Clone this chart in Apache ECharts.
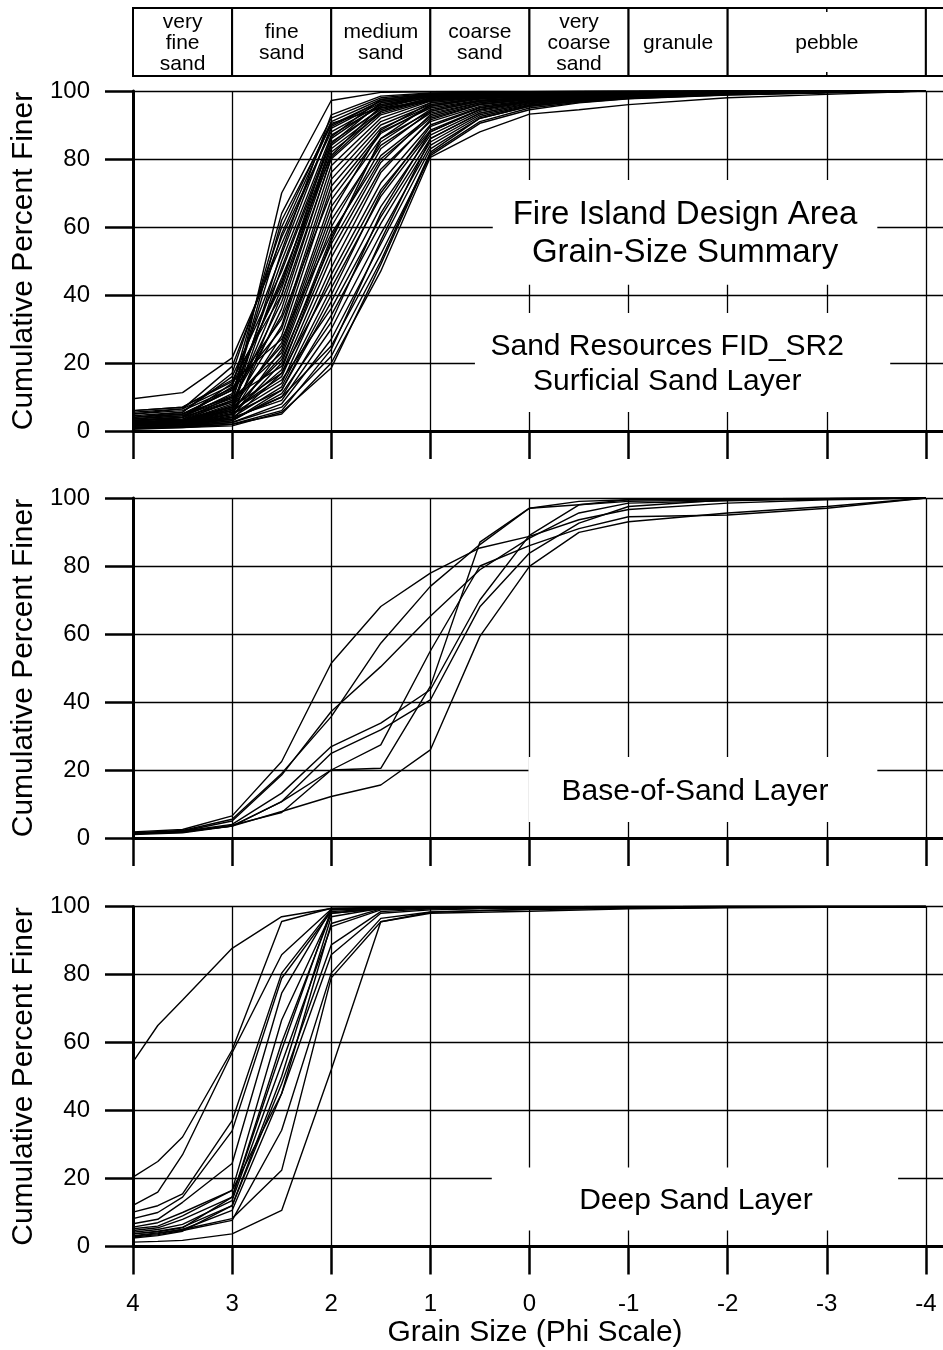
<!DOCTYPE html>
<html>
<head>
<meta charset="utf-8">
<script src="https://cdn.jsdelivr.net/npm/echarts/dist/echarts.min.js"></script>
<style>
  html, body { margin: 0; padding: 0; background: #fff; }
  #chart { width: 943px; height: 1350px; }
</style>
</head>
<body>
<div id="chart"></div>
<script>
// Phi sieve sizes at which each sample was measured
const PHI = [4, 3.5, 3, 2.5, 2, 1.5, 1, 0.5, 0, -0.5, -1, -2, -3, -4];
const PHI_DEEP = [4, 3.75, 3.5, 3, 2.5, 2, 1.5, 1, 0.5, 0, -1, -2, -3, -4];

// Cumulative percent finer, one row per sample
const SURFICIAL = [
  [2.0, 3.0, 8.0, 70.0, 97.2, 99.6, 99.8, 99.9, 99.9, 100, 100, 100, 100, 100],
  [3.0, 4.0, 13.0, 64.0, 92.0, 98.0, 99.3, 99.6, 99.7, 99.8, 99.9, 99.9, 100, 100],
  [4.5, 5.5, 17.0, 60.0, 91.0, 97.5, 99.0, 99.4, 99.6, 99.7, 99.8, 99.9, 100, 100],
  [2.5, 3.5, 10.0, 62.0, 90.0, 97.0, 98.8, 99.3, 99.5, 99.7, 99.8, 99.9, 100, 100],
  [9.5, 11.3, 21.5, 55.0, 89.0, 96.5, 98.6, 99.2, 99.5, 99.6, 99.7, 99.9, 100, 100],
  [5.5, 6.5, 19.0, 57.0, 88.0, 96.0, 98.5, 99.1, 99.4, 99.6, 99.7, 99.9, 100, 100],
  [3.0, 4.0, 14.0, 52.0, 89.5, 97.0, 98.9, 99.4, 99.6, 99.7, 99.8, 99.9, 100, 100],
  [2.0, 3.0, 9.0, 50.0, 87.0, 95.5, 98.2, 99.0, 99.3, 99.5, 99.7, 99.9, 100, 100],
  [1.5, 2.5, 6.0, 48.0, 86.0, 96.0, 98.6, 99.2, 99.5, 99.6, 99.8, 99.9, 100, 100],
  [4.0, 5.5, 16.0, 47.0, 85.0, 94.5, 97.8, 98.8, 99.2, 99.4, 99.6, 99.8, 99.9, 100],
  [3.5, 5.0, 12.0, 44.0, 84.0, 95.0, 98.3, 99.0, 99.3, 99.5, 99.7, 99.9, 100, 100],
  [2.0, 3.0, 7.5, 42.0, 83.0, 94.0, 97.5, 98.6, 99.1, 99.4, 99.6, 99.8, 99.9, 100],
  [6.0, 7.0, 15.0, 40.0, 82.0, 93.5, 97.5, 98.7, 99.2, 99.4, 99.6, 99.8, 99.9, 100],
  [3.0, 4.0, 11.0, 45.0, 81.0, 95.5, 98.7, 99.2, 99.5, 99.6, 99.8, 99.9, 100, 100],
  [2.5, 3.5, 8.5, 38.0, 80.0, 93.0, 97.2, 98.5, 99.0, 99.3, 99.5, 99.8, 99.9, 100],
  [1.5, 2.0, 5.0, 36.0, 80.5, 94.0, 98.0, 98.9, 99.3, 99.5, 99.7, 99.9, 100, 100],
  [5.0, 6.5, 13.5, 43.0, 86.5, 97.5, 99.2, 99.5, 99.7, 99.8, 99.9, 99.9, 100, 100],
  [2.0, 2.5, 6.5, 53.0, 93.0, 98.5, 99.4, 99.6, 99.7, 99.8, 99.9, 100, 100, 100],
  [1.0, 1.5, 4.0, 40.0, 84.5, 96.5, 98.8, 99.3, 99.5, 99.7, 99.8, 99.9, 100, 100],
  [3.5, 4.5, 10.5, 58.0, 90.5, 95.0, 97.0, 98.2, 98.8, 99.2, 99.5, 99.8, 99.9, 100],
  [3.0, 4.0, 9.0, 34.0, 78.0, 92.0, 97.0, 98.5, 99.0, 99.3, 99.5, 99.8, 99.9, 100],
  [2.0, 3.0, 7.0, 31.0, 76.0, 91.0, 96.5, 98.2, 98.8, 99.2, 99.5, 99.8, 99.9, 100],
  [4.0, 5.0, 12.0, 30.0, 74.0, 90.0, 96.0, 97.8, 98.5, 99.0, 99.3, 99.7, 99.9, 100],
  [1.5, 2.0, 5.0, 28.0, 72.0, 89.0, 95.5, 97.6, 98.4, 98.9, 99.2, 99.6, 99.8, 100],
  [5.0, 6.0, 12.5, 33.0, 70.0, 88.0, 95.0, 97.3, 98.2, 98.8, 99.2, 99.6, 99.8, 100],
  [2.5, 3.0, 7.0, 26.0, 68.0, 87.5, 95.5, 97.8, 98.6, 99.0, 99.3, 99.7, 99.9, 100],
  [3.0, 4.0, 8.5, 25.0, 66.0, 86.0, 94.0, 97.0, 98.0, 98.6, 99.0, 99.5, 99.8, 100],
  [1.0, 1.5, 4.0, 24.0, 64.0, 88.5, 96.5, 98.2, 98.8, 99.2, 99.5, 99.8, 99.9, 100],
  [3.5, 4.5, 9.5, 23.0, 62.0, 84.0, 93.5, 96.6, 97.8, 98.4, 98.9, 99.4, 99.7, 100],
  [2.0, 2.5, 6.0, 22.0, 60.0, 85.0, 94.5, 97.2, 98.2, 98.7, 99.1, 99.5, 99.8, 100],
  [6.0, 7.0, 14.5, 27.0, 58.0, 81.0, 92.5, 96.2, 97.6, 98.3, 98.8, 99.4, 99.7, 100],
  [1.5, 2.0, 4.5, 20.0, 57.0, 83.0, 94.0, 97.0, 98.1, 98.7, 99.1, 99.5, 99.8, 100],
  [2.5, 3.0, 6.5, 21.0, 55.0, 80.0, 92.0, 96.0, 97.5, 98.2, 98.8, 99.4, 99.7, 100],
  [4.0, 5.0, 10.0, 19.0, 53.0, 79.0, 93.0, 96.5, 97.8, 98.4, 98.9, 99.4, 99.7, 100],
  [1.0, 1.5, 3.5, 17.0, 51.0, 77.0, 91.0, 95.5, 97.2, 98.0, 98.6, 99.3, 99.7, 100],
  [2.0, 2.5, 5.5, 18.0, 56.0, 86.0, 96.0, 98.0, 98.7, 99.1, 99.4, 99.7, 99.9, 100],
  [2.5, 3.0, 6.0, 16.0, 48.0, 76.0, 91.5, 96.0, 97.5, 98.2, 98.7, 99.3, 99.7, 100],
  [2.0, 2.5, 5.0, 14.0, 46.0, 73.0, 90.0, 95.2, 97.0, 97.9, 98.6, 99.3, 99.7, 100],
  [3.0, 3.5, 7.0, 17.0, 44.0, 71.0, 88.5, 94.5, 96.8, 97.8, 98.5, 99.2, 99.6, 100],
  [1.5, 2.0, 4.0, 13.0, 42.0, 69.0, 88.0, 94.5, 96.8, 97.8, 98.5, 99.2, 99.6, 100],
  [1.0, 1.5, 3.0, 12.0, 40.0, 70.0, 89.5, 95.0, 97.0, 97.9, 98.6, 99.3, 99.7, 100],
  [2.0, 2.5, 5.0, 12.0, 38.0, 66.0, 87.0, 94.0, 96.5, 97.6, 98.4, 99.2, 99.6, 100],
  [2.5, 3.0, 6.0, 15.0, 36.0, 63.0, 86.0, 93.5, 96.3, 97.5, 98.3, 99.1, 99.6, 100],
  [1.5, 2.0, 3.5, 10.0, 34.0, 61.0, 85.0, 93.0, 96.0, 97.3, 98.2, 99.1, 99.6, 100],
  [1.0, 1.5, 3.0, 11.0, 32.0, 64.0, 88.0, 94.5, 96.8, 97.8, 98.5, 99.2, 99.6, 100],
  [2.0, 2.5, 4.0, 9.0, 30.0, 58.0, 84.0, 92.5, 95.8, 97.2, 98.1, 99.0, 99.6, 100],
  [1.0, 1.2, 2.5, 8.0, 27.0, 55.0, 83.0, 92.0, 95.5, 97.0, 98.0, 99.0, 99.6, 100],
  [1.5, 2.0, 3.5, 10.0, 25.0, 52.0, 81.0, 90.5, 94.5, 96.5, 97.7, 98.8, 99.5, 100],
  [1.0, 1.5, 2.5, 7.0, 22.0, 50.0, 82.0, 92.0, 95.5, 97.0, 98.0, 99.0, 99.6, 100],
  [0.8, 1.0, 2.0, 5.0, 20.0, 47.0, 80.5, 88.0, 93.2, 94.5, 96.0, 98.0, 99.0, 100],
  [0.5, 1.0, 1.5, 5.5, 18.5, 49.0, 81.5, 91.0, 95.0, 96.7, 97.8, 98.9, 99.5, 100],
  [0.8, 1.2, 2.0, 6.0, 24.0, 56.0, 86.0, 93.5, 96.3, 97.5, 98.3, 99.1, 99.6, 100]
];

const BASE_OF_SAND = [
  [1.8, 2.5, 6.5, 22.5, 51.4, 68.1, 77.9, 85.3, 88.7, 93.6, 96.6, 98.5, 99.5, 100],
  [1.5, 2.2, 5.5, 19.0, 35.7, 57.3, 74.0, 86.3, 97.0, 99.0, 99.5, 99.7, 99.9, 100],
  [1.5, 2.0, 5.0, 18.5, 37.2, 50.4, 65.2, 78.9, 88.2, 95.6, 98.5, 99.2, 99.8, 100],
  [1.3, 2.0, 4.0, 13.2, 26.9, 33.8, 43.6, 70.0, 89.0, 98.0, 99.5, 99.7, 99.9, 100],
  [1.3, 1.8, 3.5, 10.7, 24.9, 31.8, 40.6, 68.0, 83.8, 92.6, 97.5, 99.5, 99.8, 100],
  [1.2, 1.8, 3.5, 10.7, 20.0, 20.5, 44.6, 87.0, 97.0, 98.0, 99.0, 99.5, 99.8, 100],
  [1.0, 1.5, 3.5, 7.8, 12.2, 15.6, 25.9, 59.3, 79.9, 89.9, 93.0, 95.6, 97.5, 100],
  [1.2, 1.7, 3.8, 7.5, 20.0, 27.4, 55.0, 80.0, 86.0, 91.0, 94.5, 95.0, 97.0, 100]
];

const DEEP_SAND = [
  [54.3, 65.0, 72.5, 87.7, 97.0, 99.4, 99.6, 99.7, 99.8, 99.9, 100, 100, 100, 100],
  [20.4, 25.0, 32.2, 57.8, 95.6, 99.5, 99.7, 99.8, 99.8, 99.9, 100, 100, 100, 100],
  [12.1, 16.0, 27.0, 57.0, 85.8, 99.2, 99.6, 99.7, 99.8, 99.9, 100, 100, 100, 100],
  [10.1, 12.0, 15.5, 37.0, 80.4, 99.0, 99.5, 99.7, 99.8, 99.9, 100, 100, 100, 100],
  [8.2, 10.0, 14.5, 34.0, 78.9, 98.5, 99.4, 99.6, 99.7, 99.8, 99.9, 100, 100, 100],
  [6.7, 8.0, 13.0, 24.4, 74.5, 99.2, 99.6, 99.7, 99.8, 99.9, 100, 100, 100, 100],
  [5.7, 7.0, 10.0, 16.5, 66.6, 98.0, 99.3, 99.5, 99.6, 99.7, 99.9, 100, 100, 100],
  [4.7, 5.5, 8.0, 14.5, 57.8, 99.0, 99.5, 99.7, 99.8, 99.8, 99.9, 100, 100, 100],
  [4.2, 5.0, 6.5, 13.5, 53.8, 94.1, 99.0, 99.4, 99.6, 99.7, 99.9, 100, 100, 100],
  [3.7, 4.5, 5.7, 12.0, 47.9, 88.7, 98.5, 99.3, 99.5, 99.7, 99.9, 100, 100, 100],
  [3.2, 4.0, 5.0, 10.6, 45.0, 85.8, 98.0, 99.0, 99.3, 99.5, 99.8, 99.9, 100, 100],
  [2.8, 3.5, 4.7, 7.7, 34.2, 80.4, 96.5, 98.4, 98.8, 99.2, 99.6, 99.8, 99.9, 100],
  [1.3, 1.5, 1.8, 3.7, 10.6, 52.0, 95.5, 98.0, 98.3, 98.6, 99.3, 99.6, 99.8, 100],
  [3.7, 4.3, 5.5, 14.5, 60.0, 98.0, 99.4, 99.6, 99.7, 99.8, 99.9, 100, 100, 100],
  [3.0, 3.8, 5.0, 8.2, 22.4, 79.0, 95.5, 98.3, 98.8, 99.1, 99.5, 99.8, 99.9, 100],
  [5.2, 6.0, 9.0, 16.5, 45.0, 95.0, 99.3, 99.5, 99.6, 99.7, 99.9, 100, 100, 100],
  [2.5, 3.2, 4.5, 12.0, 50.0, 97.0, 99.5, 99.6, 99.7, 99.8, 99.9, 100, 100, 100]
];

// Wentworth size classes shown above the plots (phi boundaries)
const GRAIN_CLASSES = [
  { from: 4, to: 3, label: 'very\nfine\nsand' },
  { from: 3, to: 2, label: 'fine\nsand' },
  { from: 2, to: 1, label: 'medium\nsand' },
  { from: 1, to: 0, label: 'coarse\nsand' },
  { from: 0, to: -1, label: 'very\ncoarse\nsand' },
  { from: -1, to: -2, label: 'granule' },
  { from: -2, to: -4, label: 'pebble', marks: [-3] },
  { from: -4, to: -5, label: '' }
];

const Y_TICKS = { min: 0, max: 100, step: 20 };
const X_TICKS = { min: -5, max: 4, step: 1 };

const FONT = '"Liberation Sans", Arial, Helvetica, sans-serif';

// Layout of the three stacked panels; the plot runs past the right edge of the page
const PANELS = [
  { top: 91, rows: SURFICIAL, phi: PHI },
  { top: 498, rows: BASE_OF_SAND, phi: PHI },
  { top: 906.5, rows: DEEP_SAND, phi: PHI_DEEP }
];
const PANEL_H = 340;
const LEFT = 133;
const PLOT_W = 892;

// Text blocks in each panel, with a white backing box that interrupts the grid
const NOTES = [
  { panel: 0, box: [0.37, -3.51, 73.8, 43.0], at: [-1.57, 57.9], size: 33, lh: 38,
    text: 'Fire Island Design Area\nGrain-Size Summary' },
  { panel: 0, box: [0.55, -3.64, 34.7, 5.6], at: [-1.39, 19.6], size: 30, lh: 35,
    text: 'Sand Resources FID_SR2\nSurficial Sand Layer' },
  { panel: 1, box: [0.01, -3.51, 23.8, 4.7], at: [-1.67, 13.5], size: 30, lh: 35,
    text: 'Base-of-Sand Layer' },
  { panel: 2, box: [0.38, -3.72, 23.2, 4.7], at: [-1.68, 13.5], size: 30, lh: 35,
    text: 'Deep Sand Layer' }
];

const chart = echarts.init(document.getElementById('chart'), null, { renderer: 'canvas' });

const grid = [];
const xAxis = [];
const yAxis = [];
const series = [];

PANELS.forEach((p, i) => {
  const last = i === PANELS.length - 1;
  grid.push({ left: LEFT, top: p.top, width: PLOT_W, height: PANEL_H,
              containLabel: false, outerBoundsMode: 'none' });
  xAxis.push({
    gridIndex: i, type: 'value', inverse: true,
    min: X_TICKS.min, max: X_TICKS.max, interval: X_TICKS.step,
    axisLine: { show: true, onZero: false, lineStyle: { color: '#000', width: 3 } },
    axisTick: { show: true, inside: false, length: 28, lineStyle: { color: '#000', width: 2.5 } },
    axisLabel: {
      show: last, margin: 46, color: '#000', fontSize: 24, fontFamily: FONT,
      showMinLabel: false
    },
    splitLine: { show: true, lineStyle: { color: '#000', width: 1.3 } },
    name: last ? 'Grain Size (Phi Scale)' : '',
    nameLocation: 'middle', nameGap: 70,
    // centred under the visible part of the axis rather than the whole grid
    nameTextStyle: { color: '#000', fontSize: 30, fontFamily: FONT, padding: [0, 88, 0, 0] }
  });
  yAxis.push({
    gridIndex: i, type: 'value',
    min: Y_TICKS.min, max: Y_TICKS.max, interval: Y_TICKS.step,
    axisLine: { show: true, onZero: false, lineStyle: { color: '#000', width: 3 } },
    axisTick: { show: true, inside: false, length: 28, lineStyle: { color: '#000', width: 2.5 } },
    axisLabel: { margin: 43, color: '#000', fontSize: 24, fontFamily: FONT },
    splitLine: { show: true, lineStyle: { color: '#000', width: 1.3 } },
    name: 'Cumulative Percent Finer', nameLocation: 'middle', nameGap: 92,
    nameTextStyle: { color: '#000', fontSize: 30, fontFamily: FONT }
  });

  p.rows.forEach(vals => {
    series.push({
      type: 'line', xAxisIndex: i, yAxisIndex: i,
      data: p.phi.map((phi, k) => [phi, vals[k]]),
      symbol: 'none', showSymbol: false, silent: true, z: 3,
      lineStyle: { color: '#000', width: 1.4 }
    });
  });
});

NOTES.forEach(n => {
  series.push({
    type: 'custom', xAxisIndex: n.panel, yAxisIndex: n.panel,
    clip: false, silent: true, z: 2,
    data: [n.box],
    renderItem: (params, api) => {
      const a = api.coord([api.value(0), api.value(2)]);
      const b = api.coord([api.value(1), api.value(3)]);
      const c = api.coord(n.at);
      return {
        type: 'group',
        children: [
          { type: 'rect', shape: { x: a[0], y: a[1], width: b[0] - a[0], height: b[1] - a[1] },
            style: { fill: '#fff' } },
          { type: 'text', x: c[0], y: c[1],
            style: { text: n.text, fill: '#000', font: n.size + 'px ' + FONT,
                     align: 'center', verticalAlign: 'middle', lineHeight: n.lh } }
        ]
      };
    }
  });
});

// Size-class header strip
const H = PANELS.length;
grid.push({ left: LEFT, top: 8, width: PLOT_W, height: 68, outerBoundsMode: 'none' });
xAxis.push({ gridIndex: H, type: 'value', inverse: true,
  min: X_TICKS.min, max: X_TICKS.max, interval: X_TICKS.step, show: false });
yAxis.push({ gridIndex: H, type: 'value', min: 0, max: 1, show: false });
series.push({
  type: 'custom', xAxisIndex: H, yAxisIndex: H, clip: false, silent: true,
  data: GRAIN_CLASSES.map(c => [c.from, c.to]),
  renderItem: (params, api) => {
    const cls = GRAIN_CLASSES[params.dataIndex];
    const a = api.coord([api.value(0), 1]);
    const b = api.coord([api.value(1), 0]);
    const children = [
      { type: 'rect', shape: { x: a[0], y: a[1], width: b[0] - a[0], height: b[1] - a[1] },
        style: { fill: '#fff', stroke: '#000', lineWidth: 2 } }
    ];
    if (cls.label) {
      children.push({ type: 'text', x: (a[0] + b[0]) / 2, y: (a[1] + b[1]) / 2 + 1,
        style: { text: cls.label, fill: '#000', font: '21px ' + FONT,
                 align: 'center', verticalAlign: 'middle', lineHeight: 21 } });
    }
    (cls.marks || []).forEach(m => {
      const t = api.coord([m, 1]);
      const u = api.coord([m, 0]);
      children.push({ type: 'line', shape: { x1: t[0], y1: t[1], x2: t[0], y2: t[1] + 4 },
        style: { stroke: '#000', lineWidth: 1.5 } });
      children.push({ type: 'line', shape: { x1: u[0], y1: u[1] - 4, x2: u[0], y2: u[1] },
        style: { stroke: '#000', lineWidth: 1.5 } });
    });
    return { type: 'group', children };
  }
});

chart.setOption({
  backgroundColor: '#fff',
  animation: false,
  grid, xAxis, yAxis, series
});
</script>
</body>
</html>
